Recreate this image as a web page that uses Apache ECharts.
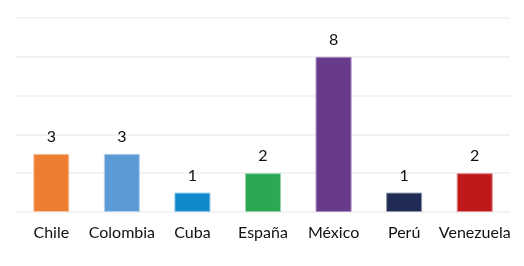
<!DOCTYPE html>
<html><head><meta charset="utf-8">
<script src="https://cdn.jsdelivr.net/npm/echarts@6/dist/echarts.min.js"></script>
<style>html,body{margin:0;padding:0;background:#fff}#c{width:524px;height:266px}</style>
</head><body><div id="c"></div>
<script>
const categories = ["Chile","Colombia","Cuba","España","México","Perú","Venezuela"];
const values = [3,3,1,2,8,1,2];
const colors = ["#ED7D31","#5B9BD5","#118ACB","#2BA851","#673A8A","#212C56","#C0191B"];
const borders = ["#F5C6A8","#B4D0EC","#8CC4E6","#96D4A8","#A88BC0","#8E95AA","#E08C8D"];
const chart = echarts.init(document.getElementById('c'));
chart.setOption({
  animation:false,
  grid:{left:16,right:14,top:18,bottom:54},
  xAxis:{type:'category',data:categories,axisLine:{show:false},axisTick:{show:false},
    axisLabel:{interval:0,color:'#111',fontSize:16,fontFamily:'Lato',margin:13}},
  yAxis:{type:'value',min:0,max:10,interval:2,axisLabel:{show:false},axisLine:{show:false},axisTick:{show:false},
    splitLine:{lineStyle:{color:'#f3f3f3',width:2}}},
  series:[{type:'bar',barWidth:'51%',
    data:values.map((v,i)=>({value:v,itemStyle:{color:colors[i],borderColor:borders[i],borderWidth:1}})),
    label:{show:true,position:'top',distance:9,color:'#111',fontSize:16,fontFamily:'Lato'}}]
});
</script></body></html>
